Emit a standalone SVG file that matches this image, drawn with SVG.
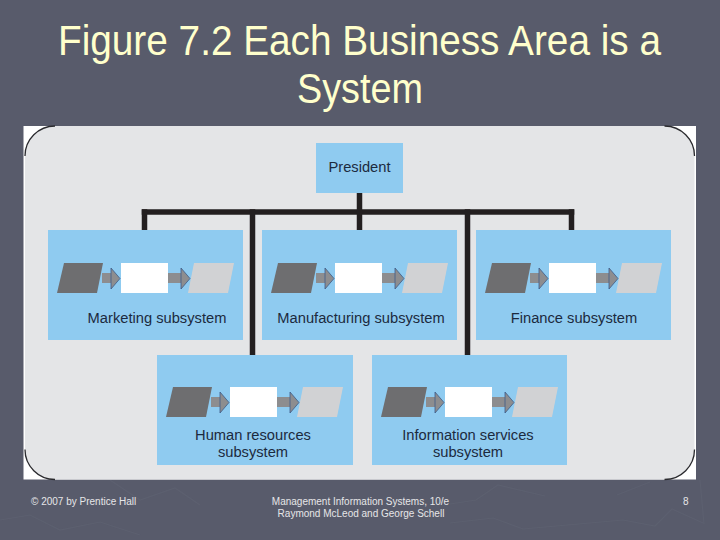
<svg xmlns="http://www.w3.org/2000/svg" xmlns:xlink="http://www.w3.org/1999/xlink" width="720" height="540" viewBox="0 0 720 540">
  <style>
    .title { font-family: "Liberation Sans", Arial, sans-serif; font-size: 42px; fill: #ffffcc; }
    .foot { font-family: "Liberation Sans", Arial, sans-serif; font-size: 10px; fill: #e6e6e8; }
    .box { fill: #8fcbf0; }
    .lbl { font-family: "Liberation Sans", Arial, sans-serif; font-size: 14.7px; fill: #1c2a3e; text-anchor: middle; }
    .conn { stroke: #231f20; stroke-width: 5.5; fill: none; stroke-linecap: square; }
    .bgline { stroke: #62657576; stroke-width: 1.2; fill: none; }
    .corner { stroke: #2a2a2e; stroke-width: 1.3; fill: none; }
  </style>
  <defs>
    <g id="flow">
      <polygon points="16,33 55,33 49,63 9,63" fill="#6e6e70"/>
      <rect x="54" y="43" width="10" height="10" fill="#8d8d8f"/>
      <polygon points="63,38 72,48.5 63,59" fill="#8d8d8f" stroke="#3c5c88" stroke-width="0.8"/>
      <rect x="73" y="33" width="47" height="30" fill="#ffffff"/>
      <rect x="120" y="43" width="14" height="10" fill="#8d8d8f"/>
      <polygon points="133,38 142,48.5 133,59" fill="#8d8d8f" stroke="#3c5c88" stroke-width="0.8"/>
      <polygon points="146,33 186,33 180,63 140,63" fill="#d1d2d4"/>
    </g>
  </defs>

  <rect x="0" y="0" width="720" height="540" fill="#585b6b"/>
  <g id="bg-pattern">
    <polyline class="bgline" points="0,520 30,515 60,530 100,522 140,535"/>
    <polyline class="bgline" points="110,480 140,500 175,488 200,505"/>
    <polyline class="bgline" points="450,523 493,518 523,529 623,520 655,526 672,509 703,523"/>
    <polyline class="bgline" points="450,504 476,500 498,485 545,496"/>
    <polyline class="bgline" points="617,495 650,482"/>
    <polyline class="bgline" points="700,480 704,524"/>
  </g>

  <g id="title">
    <text class="title" x="58" y="55" textLength="603" lengthAdjust="spacingAndGlyphs">Figure 7.2 Each Business Area is a</text>
    <text class="title" x="297" y="103" textLength="126" lengthAdjust="spacingAndGlyphs">System</text>
  </g>

  <g id="panel">
    <rect x="23.5" y="126" width="672.5" height="353.5" fill="#ffffff"/>
    <rect x="25" y="126" width="669.5" height="353.5" rx="30" ry="30" fill="#e4e5e7"/>
    <path class="corner" d="M25,156 A30,30 0 0 1 55,126"/>
    <path class="corner" d="M664.5,126 A30,30 0 0 1 694.5,156"/>
    <path class="corner" d="M25,449.5 A30,30 0 0 0 55,479.5"/>
    <path class="corner" d="M664.5,479.5 A30,30 0 0 0 694.5,449.5"/>
  </g>

  <g id="connectors">
    <path class="conn" d="M144.5,212 H571.5"/>
    <path class="conn" d="M359.5,193 V228"/>
    <path class="conn" d="M144.5,212 V228"/>
    <path class="conn" d="M571.5,212 V228"/>
    <path class="conn" d="M252.5,212 V353"/>
    <path class="conn" d="M467.5,212 V353"/>
  </g>

  <g id="president">
    <rect class="box" x="316" y="143" width="87" height="50"/>
    <text class="lbl" x="359.5" y="172">President</text>
  </g>

  <g id="marketing">
    <rect class="box" x="48" y="230" width="195" height="110"/>
    <use xlink:href="#flow" href="#flow" transform="translate(48,230)"/>
    <text class="lbl" x="157" y="323">Marketing subsystem</text>
  </g>

  <g id="manufacturing">
    <rect class="box" x="262" y="230" width="195" height="110"/>
    <use xlink:href="#flow" href="#flow" transform="translate(262,230)"/>
    <text class="lbl" x="361" y="323">Manufacturing subsystem</text>
  </g>

  <g id="finance">
    <rect class="box" x="476" y="230" width="195" height="110"/>
    <use xlink:href="#flow" href="#flow" transform="translate(476,230)"/>
    <text class="lbl" x="574" y="323">Finance subsystem</text>
  </g>

  <g id="human-resources">
    <rect class="box" x="157" y="355" width="196" height="110"/>
    <use xlink:href="#flow" href="#flow" transform="translate(157,354)"/>
    <text class="lbl" x="253" y="440">Human resources</text>
    <text class="lbl" x="253" y="457">subsystem</text>
  </g>

  <g id="information-services">
    <rect class="box" x="372" y="355" width="195" height="110"/>
    <use xlink:href="#flow" href="#flow" transform="translate(372,354)"/>
    <text class="lbl" x="468" y="440">Information services</text>
    <text class="lbl" x="468" y="457">subsystem</text>
  </g>

  <g id="footer">
    <text class="foot" x="31" y="505">© 2007 by Prentice Hall</text>
    <text class="foot" x="360.5" y="505" text-anchor="middle">Management Information Systems, 10/e</text>
    <text class="foot" x="361" y="517" text-anchor="middle">Raymond McLeod and George Schell</text>
    <text class="foot" x="683" y="505">8</text>
  </g>
</svg>
